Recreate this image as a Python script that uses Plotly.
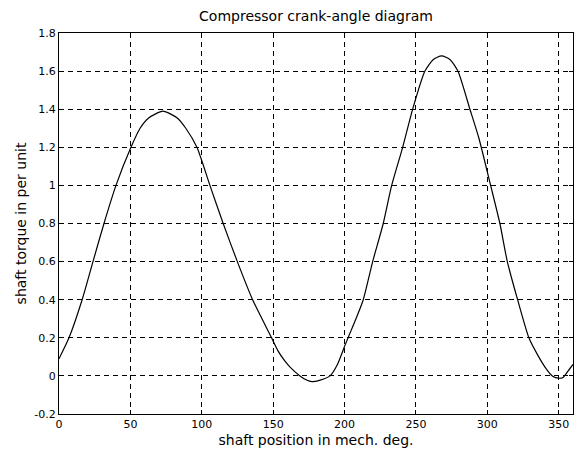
import plotly.graph_objects as go

# shaft position (mech. deg) and shaft torque (per unit)
position_deg = [0, 7, 16.2, 23.8, 31.5, 39.9, 50.4, 56.8, 62.8, 72.8, 82.8, 88.8,
                96.6, 105.7, 115, 124.9, 135.6, 148.9, 153.5, 158, 162, 168.8,
                173, 177.2, 183, 189.8, 195, 200, 203, 208, 213.1, 219.7, 227.1,
                233, 240.7, 247.7, 256.3, 262, 268, 274, 279.4, 287.8, 294,
                302.3, 308.8, 314, 321.2, 329.1, 336, 341, 345.5, 350, 353,
                356.5, 360]
torque_pu = [0.09, 0.2, 0.4, 0.6, 0.8, 1.0, 1.2, 1.30, 1.354, 1.39, 1.354, 1.30,
             1.2, 1.0, 0.8, 0.6, 0.4, 0.2, 0.13, 0.08, 0.045, 0.0,
             -0.02, -0.03, -0.022, 0.0, 0.06, 0.155, 0.21, 0.3, 0.4, 0.6, 0.8,
             1.0, 1.2, 1.4, 1.6, 1.66, 1.68, 1.66, 1.6, 1.4, 1.25,
             1.0, 0.8, 0.6, 0.4, 0.2, 0.10, 0.04, 0.0, -0.012, -0.008,
             0.025, 0.06]

x_ticks = [0, 50, 100, 150, 200, 250, 300, 350]
y_ticks = [-0.2, 0, 0.2, 0.4, 0.6, 0.8, 1, 1.2, 1.4, 1.6, 1.8]
y_tick_labels = ["-0.2", "0", "0.2", "0.4", "0.6", "0.8", "1", "1.2", "1.4", "1.6", "1.8"]

FONT = "DejaVu Sans, Arial, sans-serif"

fig = go.Figure()
fig.add_trace(go.Scatter(x=position_deg, y=torque_pu, mode="lines",
                         line=dict(color="black", width=1.2, shape="spline", smoothing=0.6),
                         showlegend=False, hoverinfo="skip"))

axis_common = dict(
    showline=True, linecolor="black", linewidth=1, mirror="ticks",
    ticks="inside", ticklen=4, tickcolor="black", tickwidth=1,
    showgrid=True, gridcolor="black", gridwidth=1, griddash="5px,4px",
    zeroline=False, tickfont=dict(family=FONT, size=11, color="black"),
)

fig.update_layout(
    width=574, height=454,
    margin=dict(l=59, r=1, t=33, b=40),
    paper_bgcolor="white", plot_bgcolor="white",
    font=dict(family=FONT, color="black"),
    title=dict(text="Compressor crank-angle diagram", x=(59 + 573) / 2 / 574,
               xanchor="center", y=1 - 16 / 454, yanchor="middle",
               font=dict(family=FONT, size=14, color="black")),
    xaxis=dict(range=[0, 360], tickvals=x_ticks,
               title=dict(text="shaft position in mech. deg.", standoff=4,
                          font=dict(family=FONT, size=14, color="black")),
               **axis_common),
    yaxis=dict(range=[-0.2, 1.8], tickvals=y_ticks, ticktext=y_tick_labels,
               title=dict(text="shaft torque in per unit", standoff=4,
                          font=dict(family=FONT, size=14, color="black")),
               **axis_common),
)

fig.write_html("out.html")
